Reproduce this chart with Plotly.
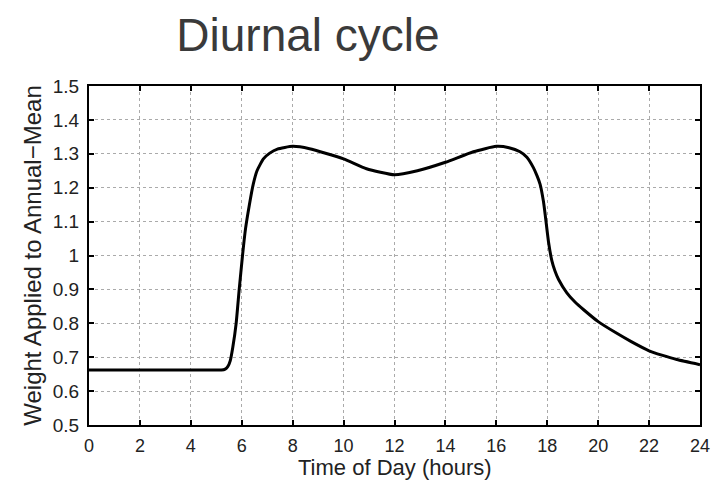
import plotly.graph_objects as go

hours = [0, 2, 4, 5, 5.2, 5.35, 5.45, 5.55, 5.65, 5.78, 5.9, 6.03, 6.15, 6.3, 6.45, 6.6,
         6.85, 7.1, 7.4, 8, 8.66, 10, 10.9, 12, 12.9, 14, 15.1, 16, 16.5, 16.93, 17.2,
         17.45, 17.6, 17.72, 17.85, 17.92, 18.05, 18.18, 18.3, 18.44, 18.77, 19.1, 19.43,
         20, 20.7, 21.3, 22, 22.5, 23.09, 24]
weight = [0.662, 0.662, 0.662, 0.662, 0.662, 0.665, 0.672, 0.69, 0.73, 0.80, 0.90, 1.0,
          1.08, 1.15, 1.21, 1.25, 1.285, 1.302, 1.314, 1.322, 1.315, 1.285, 1.256, 1.238,
          1.25, 1.275, 1.306, 1.322, 1.318, 1.306, 1.29, 1.26, 1.235, 1.21, 1.16, 1.12,
          1.04, 0.985, 0.955, 0.93, 0.89, 0.862, 0.84, 0.805, 0.772, 0.746, 0.719, 0.706,
          0.693, 0.678]

x_ticks = list(range(0, 25, 2))
y_ticks = [0.5, 0.6, 0.7, 0.8, 0.9, 1.0, 1.1, 1.2, 1.3, 1.4, 1.5]
y_tick_text = ["0.5", "0.6", "0.7", "0.8", "0.9", "1", "1.1", "1.2", "1.3", "1.4", "1.5"]

fig = go.Figure()
fig.add_trace(go.Scatter(x=hours, y=weight, mode="lines",
                         line=dict(color="black", width=3, shape="spline", smoothing=0.5),
                         showlegend=False))

font_family = "Liberation Sans, Arial, sans-serif"
fig.update_layout(
    width=712, height=482,
    margin=dict(l=89, r=12, t=86, b=57),
    paper_bgcolor="white", plot_bgcolor="white",
    title=dict(text="Diurnal cycle", x=308 / 712, xanchor="center", y=1 - 35 / 482,
               yanchor="middle", font=dict(family=font_family, size=46, color="#3a3a3a")),
    font=dict(family=font_family, color="#222"),
)
fig.update_xaxes(range=[0, 24], tickvals=x_ticks, ticks="inside", ticklen=5, tickwidth=1.5,
                 tickcolor="black", showline=True, linecolor="black", linewidth=2,
                 mirror="ticks", showgrid=True, gridcolor="#aaaaaa", griddash="dot",
                 gridwidth=1, zeroline=False, tickfont=dict(size=18, color="#222"),
                 ticklabelstandoff=3, automargin=False)
fig.update_yaxes(range=[0.5, 1.5], tickvals=y_ticks, ticktext=y_tick_text, ticks="inside",
                 ticklen=5, tickwidth=1.5, tickcolor="black", showline=True,
                 linecolor="black", linewidth=2, mirror="ticks", showgrid=True,
                 gridcolor="#aaaaaa", griddash="dot", gridwidth=1, zeroline=False,
                 tickfont=dict(size=19, color="#222"), ticklabelstandoff=4,
                 automargin=False,
                 title=dict(text="Weight Applied to Annual\u2212Mean",
                            font=dict(size=24, color="#222"), standoff=4))

fig.add_annotation(text="Time of Day (hours)", xref="paper", yref="paper",
                   x=0.5, y=-(482 - 425) / 339, xanchor="center", yanchor="bottom",
                   showarrow=False, font=dict(family=font_family, size=22, color="#222"))

fig.write_html("out.html")
